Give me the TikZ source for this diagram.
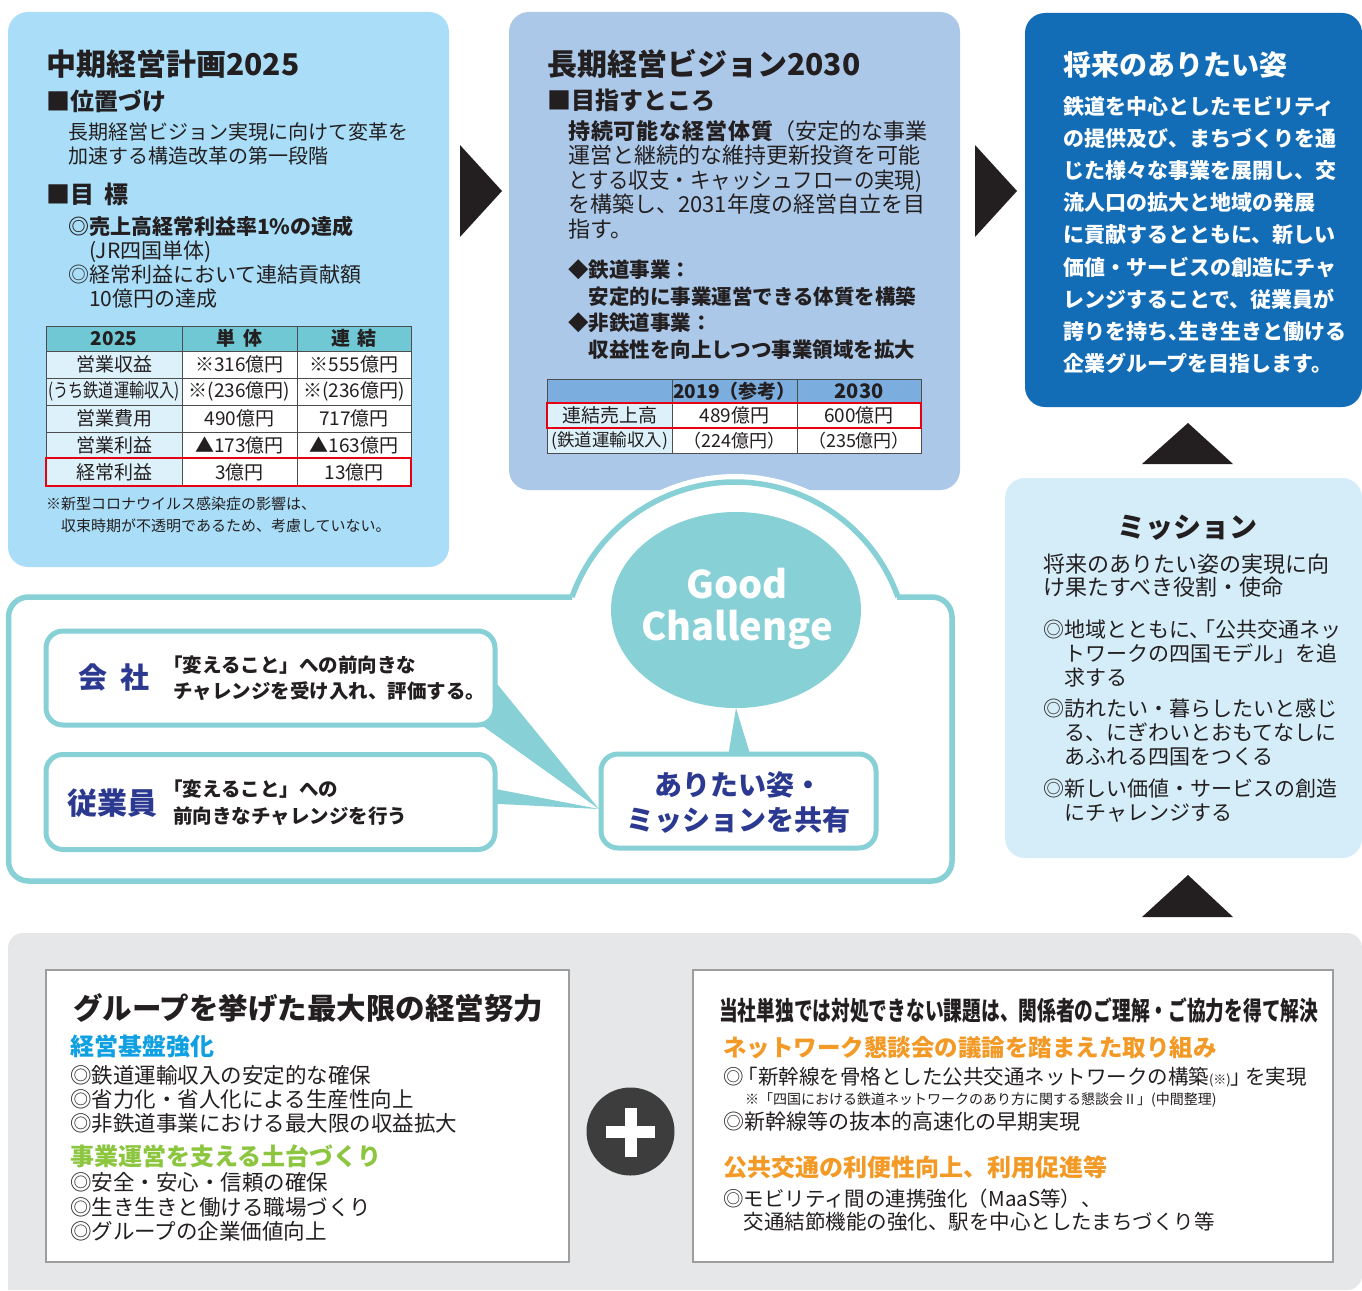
\documentclass[tikz,border=0pt]{standalone}
\usepackage{fontspec}
\setmainfont{Noto Sans CJK JP}
\newfontfamily\cnd{Noto Sans CJK JP}[FakeStretch=0.72]
\newfontfamily\cndt{Noto Sans CJK JP}[FakeStretch=0.8]
\newfontfamily\cndn{Noto Sans CJK JP}[FakeStretch=0.93]
\usetikzlibrary{shapes.geometric}
\newcommand\fz[2]{\fontsize{#1}{#2}\selectfont}
\definecolor{boxA}{HTML}{AADEF8}
\definecolor{boxB}{HTML}{ABC8E8}
\definecolor{boxC}{HTML}{136CB6}
\definecolor{misc}{HTML}{D5EDF9}
\definecolor{gcteal}{HTML}{86D0D6}
\definecolor{navyc}{HTML}{2B3990}
\definecolor{theadc}{HTML}{6FC8D4}
\definecolor{tcellc}{HTML}{DDF1FA}
\definecolor{bheadc}{HTML}{7BADDE}
\definecolor{redc}{HTML}{E60012}
\definecolor{panelc}{HTML}{E6E7E8}
\definecolor{cyanh}{HTML}{0FA0E2}
\definecolor{greenh}{HTML}{8CC63F}
\definecolor{orangeh}{HTML}{F39A26}
\definecolor{plusc}{HTML}{3D3D3D}
\definecolor{inkc}{HTML}{231F20}
\definecolor{linec}{HTML}{4D4D4D}
\definecolor{boxline}{HTML}{9D9D9D}
\tikzset{
  t/.style={inner sep=0pt, anchor=base west, align=left, text=inkc},
  panelbox/.style={inner sep=0pt, rounded corners=20pt},
  cell/.style={draw=linec, line width=1pt, inner sep=0pt, text=inkc, font=\fz{19}{19}},
  ca/.style={minimum width=136pt},
  cb/.style={minimum width=115pt},
  cc/.style={minimum width=114pt},
  da/.style={minimum width=125pt},
  db/.style={minimum width=125pt},
  dc/.style={minimum width=124pt},
  bubble/.style={draw=gcteal, fill=white, line width=5pt, rounded corners=17pt, inner sep=0pt},
  wbox/.style={draw=boxline, fill=white, line width=1.5pt, inner sep=0pt},
  blk/.style={fill=inkc},
}
\begin{document}
\begin{tikzpicture}[x=1pt, y=-1pt]
\useasboundingbox (0,0) rectangle (1362,1290);
\fill[white] (0,0) rectangle (1362,1290);

% ---------- top boxes ----------
\node[panelbox, fill=boxA, minimum width=441pt, minimum height=555pt] (mid) at (228.5,289.5) {};
\node[panelbox, fill=boxB, minimum width=451pt, minimum height=478pt] (long) at (734.5,251) {};
\node[panelbox, fill=boxC, minimum width=337pt, minimum height=394pt] (future) at (1193.5,210) {};
\node[panelbox, fill=misc, minimum width=357pt, minimum height=380pt] (mission) at (1183.5,668) {};

% arrows
\fill[blk] (460,145) -- (502,191) -- (460,237) -- cycle;
\fill[blk] (975,145) -- (1017,191) -- (975,237) -- cycle;
\fill[blk] (1142,464) -- (1188,423) -- (1233,464) -- cycle;
\fill[blk] (1142,917) -- (1188,875) -- (1233,917) -- cycle;

% ---------- box 1 text (multi-line nodes: y = baseline of last line) ----------
\node[t, font=\bfseries\fz{30}{36}] (m-title) at (46,75) {中期経営計画2025};
\node[t, font=\bfseries\fz{24}{28}] (m-pos) at (46,110) {■位置づけ};
\node[t, font=\fz{20}{24.5}] (m-posbody) at (68,163.5) {長期経営ビジョン実現に向けて変革を\\加速する構造改革の第一段階};
\node[t, font=\bfseries\fz{24}{28}] (m-goal) at (46,203) {■目\hspace{0.45em}標};
\node[t, font=\fz{21}{24}] (m-goalbody) at (68,306) {\textbf{◎売上高経常利益率1\%の達成}\\\hspace*{1em}(JR四国単体)\\◎経常利益において連結貢献額\\\hspace*{1em}10億円の達成};

% table 1
\node[cell, ca, fill=theadc, minimum height=25pt, font=\bfseries\fz{19}{19}] (ta11) at (114,338.5) {2025};
\node[cell, cb, fill=theadc, minimum height=25pt, font=\bfseries\fz{19}{19}] (ta12) at (239.5,338.5) {単\hspace{0.4em}体};
\node[cell, cc, fill=theadc, minimum height=25pt, font=\bfseries\fz{19}{19}] (ta13) at (354,338.5) {連\hspace{0.4em}結};
\node[cell, ca, fill=tcellc, minimum height=27pt] (ta21) at (114,364.5) {営業収益};
\node[cell, cb, fill=white, minimum height=27pt] (ta22) at (239.5,364.5) {※316億円};
\node[cell, cc, fill=white, minimum height=27pt] (ta23) at (354,364.5) {※555億円};
\node[cell, ca, fill=tcellc, minimum height=27pt, font=\cndt\fz{19}{19}] (ta31) at (114,391.5) {(うち鉄道運輸収入)};
\node[cell, cb, fill=white, minimum height=27pt] (ta32) at (239.5,391.5) {※(236億円)};
\node[cell, cc, fill=white, minimum height=27pt] (ta33) at (354,391.5) {※(236億円)};
\node[cell, ca, fill=tcellc, minimum height=27pt] (ta41) at (114,418.5) {営業費用};
\node[cell, cb, fill=white, minimum height=27pt] (ta42) at (239.5,418.5) {490億円};
\node[cell, cc, fill=white, minimum height=27pt] (ta43) at (354,418.5) {717億円};
\node[cell, ca, fill=tcellc, minimum height=26pt] (ta51) at (114,445) {営業利益};
\node[cell, cb, fill=white, minimum height=26pt] (ta52) at (239.5,445) {▲173億円};
\node[cell, cc, fill=white, minimum height=26pt] (ta53) at (354,445) {▲163億円};
\node[cell, ca, fill=tcellc, minimum height=28pt] (ta61) at (114,472) {経常利益};
\node[cell, cb, fill=white, minimum height=28pt] (ta62) at (239.5,472) {3億円};
\node[cell, cc, fill=white, minimum height=28pt] (ta63) at (354,472) {13億円};
\node[draw=redc, line width=2.5pt, inner sep=0pt, minimum width=365pt, minimum height=28pt] (ta-red) at (228.5,472) {};
\node[t, font=\fz{15}{22}] (m-note) at (46,531.5) {※新型コロナウイルス感染症の影響は、\\\hspace*{1em}収束時期が不透明であるため、考慮していない。};

% ---------- box 2 text ----------
\node[t, font=\bfseries\fz{30}{36}] (l-title) at (547,75.5) {長期経営ビジョン2030};
\node[t, font=\bfseries\fz{24}{28}] (l-aim) at (547,109.6) {■目指すところ};
\node[t, font=\fz{22}{24.4}] (l-body) at (568,237) {{\bfseries\addfontfeature{LetterSpace=4}持続可能な経営体質}（安定的な事業\\運営と継続的な維持更新投資を可能\\{\cndn とする収支・キャッシュフローの実現)}\\を構築し、2031年度の経営自立を目\\指す。};
\node[t, font=\bfseries\fz{20.5}{26.4}] (l-biz) at (568,357) {◆鉄道事業：\\\hspace*{1em}安定的に事業運営できる体質を構築\\◆非鉄道事業：\\\hspace*{1em}収益性を向上しつつ事業領域を拡大};

% table 2
\node[cell, da, fill=bheadc, minimum height=24pt] (tb11) at (609.5,391) {};
\node[cell, db, fill=bheadc, minimum height=24pt, font=\bfseries\fz{19}{19}] (tb12) at (734.5,391) {2019（参考）};
\node[cell, dc, fill=bheadc, minimum height=24pt, font=\bfseries\fz{20}{20}] (tb13) at (859,391) {2030};
\node[cell, da, fill=tcellc, minimum height=25pt] (tb21) at (609.5,415.5) {連結売上高};
\node[cell, db, fill=white, minimum height=25pt] (tb22) at (734.5,415.5) {489億円};
\node[cell, dc, fill=white, minimum height=25pt] (tb23) at (859,415.5) {600億円};
\node[cell, da, fill=tcellc, minimum height=25pt, font=\fz{17.5}{18}] (tb31) at (609.5,440.5) {(鉄道運輸収入)};
\node[cell, db, fill=white, minimum height=25pt, font=\fz{18}{18}] (tb32) at (734.5,440.5) {（224億円）};
\node[cell, dc, fill=white, minimum height=25pt, font=\fz{18}{18}] (tb33) at (859,440.5) {（235億円）};
\node[draw=redc, line width=2.5pt, inner sep=0pt, minimum width=374pt, minimum height=25pt] (tb-red) at (734,415.5) {};

% ---------- box 3 text ----------
\node[t, text=white, font=\bfseries\fz{28}{32}] (f-title) at (1063,75) {将来のありたい姿};
\node[t, text=white, font=\bfseries\fz{21}{32.2}] (f-body) at (1063,371.6) {鉄道を中心としたモビリティ\\の提供及び、まちづくりを通\\じた様々な事業を展開し、交\\流人口の拡大と地域の発展\\に貢献するとともに、新しい\\価値・サービスの創造にチャ\\レンジすることで、従業員が\\誇りを持ち、\hspace{-0.5em}生き生きと働ける\\企業グループを目指します。};

% ---------- mission ----------
\node[inner sep=0pt, anchor=base, text=inkc, font=\bfseries\fz{28}{32}] (mi-title) at (1187,537.6) {ミッション};
\node[t, font=\fz{22}{23.5}] (mi-intro) at (1043,595.5) {将来のありたい姿の実現に向\\け果たすべき役割・使命};
\node[t, font=\fz{21}{24}] (mi-1) at (1043,685) {◎地域とともに、\hspace{-0.75em}「公共交通ネッ\\\hspace*{1em}トワークの四国モデル」を追\\\hspace*{1em}求する};
\node[t, font=\fz{21}{24}] (mi-2) at (1043,764.5) {◎訪れたい・暮らしたいと感じ\\\hspace*{1em}る、にぎわいとおもてなしに\\\hspace*{1em}あふれる四国をつくる};
\node[t, font=\fz{21}{24}] (mi-3) at (1043,820) {◎新しい価値・サービスの創造\\\hspace*{1em}にチャレンジする};

% ---------- Good Challenge frame ----------
\fill[white] (572,597) arc[start angle=160.4, end angle=19.6, radius=173pt] -- cycle;
\draw[white, line width=16pt] (572,597) arc[start angle=160.4, end angle=19.6, radius=173pt];
\draw[gcteal, line width=5.5pt, rounded corners=20pt] (572,597) -- (8.5,597) -- (8.5,881) -- (952,881) -- (952,597) -- (897,597);
\draw[gcteal, line width=5.5pt] (572,597) arc[start angle=160.4, end angle=19.6, radius=173pt];

\node[ellipse, fill=gcteal, minimum width=250pt, minimum height=196pt, inner sep=0pt] (gc) at (736,610) {};
\node[inner sep=0pt, anchor=base, align=center, text=white, font=\bfseries\fz{38}{42}] (gc-text) at (737,640) {Good\\Challenge};

\coordinate (apex) at (599,809);
\fill[gcteal] (480,663) -- (apex) -- (480,724) -- cycle;
\fill[gcteal] (480,786) -- (apex) -- (480,803) -- cycle;
\fill[gcteal] (728,757) -- (gc.south) -- (751,757) -- cycle;

\node[bubble, minimum width=449pt, minimum height=94pt] (kaisha) at (270.5,678) {};
\node[bubble, minimum width=449pt, minimum height=95pt] (juugyouin) at (270.5,802) {};
\node[bubble, minimum width=275pt, minimum height=94pt] (share) at (738.5,801) {};

\node[t, text=navyc, font=\bfseries\fz{29}{32}] (k-label) at (78,688) {会\hspace{0.45em}社};
\node[t, font=\bfseries\fz{19.5}{26.5}] (k-text) at (173,698.9) {\hspace*{-0.5em}「変えること」への前向きな\\チャレンジを受け入れ、評価する。};
\node[t, text=navyc, font=\bfseries\fz{30}{32}] (j-label) at (67,814) {従業員};
\node[t, font=\bfseries\fz{19.5}{27.5}] (j-text) at (173,823.5) {\hspace*{-0.5em}「変えること」への\\前向きなチャレンジを行う};
\node[inner sep=0pt, anchor=base, align=center, text=navyc, font=\bfseries\fz{28}{35}] (s-text) at (738,830.6) {ありたい姿・\\ミッションを共有};

% ---------- bottom panel ----------
\fill[panelc, rounded corners=15pt] (8,1290) -- (8,933) -- (1362,933) -- (1362,1290) [sharp corners] -- cycle;
\node[wbox, minimum width=523pt, minimum height=292pt] (effort) at (307.5,1116) {};
\node[wbox, minimum width=640pt, minimum height=292pt] (partners) at (1013,1116) {};

\node[t, font=\bfseries\fz{29.5}{32}] (e-title) at (73,1019) {グループを挙げた最大限の経営努力};
\node[t, text=cyanh, font=\bfseries\fz{24}{28}] (e-h1) at (70,1055) {経営基盤強化};
\node[t, font=\fz{21.5}{24.3}] (e-l1) at (70,1131.6) {◎鉄道運輸収入の安定的な確保\\◎省力化・省人化による生産性向上\\◎非鉄道事業における最大限の収益拡大};
\node[t, text=greenh, font=\bfseries\fz{24}{28}] (e-h2) at (70,1165) {事業運営を支える土台づくり};
\node[t, font=\fz{21.5}{24.3}] (e-l2) at (70,1239.3) {◎安全・安心・信頼の確保\\◎生き生きと働ける職場づくり\\◎グループの企業価値向上};

\node[t, font=\cnd\bfseries\fz{26}{30}] (p-title) at (719,1020) {当社単独では対処できない課題は、関係者のご理解・ご協力を得て解決};
\node[t, text=orangeh, font=\bfseries\fz{23.5}{28}] (p-h1) at (723,1056) {ネットワーク懇談会の議論を踏まえた取り組み};
\node[t, font=\fz{20.5}{24}] (p-l1) at (723,1084) {◎\hspace{-0.3em}「新幹線を骨格とした公共交通ネットワークの構築{\fz{13}{13}(※)}」\hspace{-0.3em}を実現};
\node[t, font=\fz{14}{16}] (p-note) at (745,1104) {※「四国における鉄道ネットワークのあり方に関する懇談会Ⅱ」(中間整理)};
\node[t, font=\fz{21}{24}] (p-l2) at (723,1129) {◎新幹線等の抜本的高速化の早期実現};
\node[t, text=orangeh, font=\bfseries\fz{24}{28}] (p-h2) at (723,1176.5) {公共交通の利便性向上、利用促進等};
\node[t, font=\fz{20.5}{23}] (p-l3) at (723,1229) {◎モビリティ間の連携強化（MaaS等）、\\\hspace*{1em}交通結節機能の強化、駅を中心としたまちづくり等};

% plus
\node[circle, fill=plusc, minimum size=88pt, inner sep=0pt] (plus) at (630.5,1131.5) {};
\fill[white] (606,1126) rectangle (655,1138);
\fill[white] (625,1108) rectangle (637,1157);
\end{tikzpicture}
\end{document}
